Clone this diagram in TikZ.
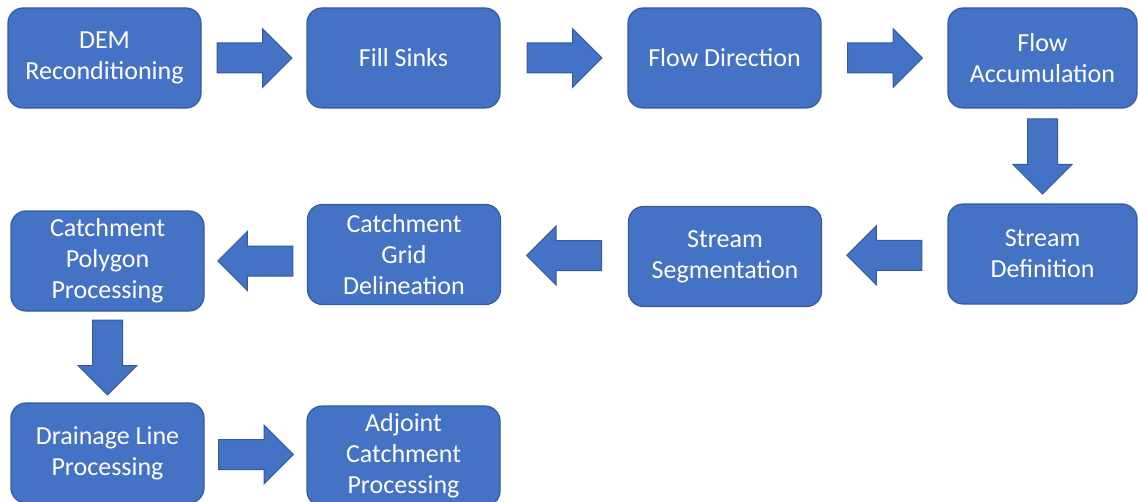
\documentclass[tikz,border=0pt]{standalone}
\usepackage{fontspec}
\setmainfont{Carlito}
\usetikzlibrary{shapes.arrows,calc}

\begin{document}
\begin{tikzpicture}[
  x=0.5pt, y=-0.5pt,
  font=\fontsize{13}{15.5}\selectfont,
  box/.style={draw=boxline, fill=boxblue, text=white, rounded corners=7.5pt, minimum width=96.5pt, minimum height=50pt, align=center, line width=0.6pt, inner sep=2pt},
  narrowbox/.style={box, minimum width=94.5pt},
  blockarrow/.style={single arrow, draw=boxline, fill=boxblue, line width=0.5pt, minimum height=37.5pt, inner sep=7.25pt, single arrow head extend=7.25pt, anchor=tail},
  rightarrow/.style={blockarrow, xshift=-18.75pt},
  leftarrow/.style={blockarrow, shape border rotate=180, xshift=18.75pt},
  downarrow/.style={blockarrow, shape border rotate=270, yshift=18.75pt}
]

\definecolor{boxblue}{RGB}{68,114,196}
\definecolor{boxline}{RGB}{52,90,160}

\useasboundingbox (0,0) rectangle (1138,502);

% first row, left to right
\node[box] (dem) at (104.5,58) {DEM\\Reconditioning};
\node[box] (sinks) at (403.5,58) {Fill Sinks};
\node[box] (fdir) at (724.5,58) {Flow Direction};
\node[narrowbox] (facc) at (1042.5,58) {Flow\\Accumulation};

% second row, right to left
\node[narrowbox] (sdef) at (1042.5,254) {Stream\\Definition};
\node[box] (sseg) at (725,256.5) {Stream\\Segmentation};
\node[box] (cgrid) at (404,254.5) {Catchment\\Grid\\Delineation};
\node[box] (cpoly) at (107.5,261) {Catchment\\Polygon\\Processing};

% third row
\node[box] (drain) at (107.5,453) {Drainage Line\\Processing};
\node[box] (adjoint) at (403.5,456) {Adjoint\\Catchment\\Processing};

% block arrows, centred in the gaps between the steps
\node[rightarrow] (a1) at ($(dem.east)!0.5!(sinks.west)$) {};
\node[rightarrow] (a2) at ($(sinks.east)!0.5!(fdir.west)$) {};
\node[rightarrow] (a3) at ($(fdir.east)!0.5!(facc.west)$) {};
\node[downarrow] (a4) at ($(facc.south)!0.5!(sdef.north)$) {};
\node[leftarrow] (a5) at ($(sseg.east)!0.5!(sdef.west)$) {};
\node[leftarrow] (a6) at ($(cgrid.east)!0.5!(sseg.west)$) {};
\node[leftarrow] (a7) at ($(cpoly.east)!0.5!(cgrid.west |- cpoly.east)$) {};
\node[downarrow] (a8) at ($(cpoly.south)!0.5!(drain.north)$) {};
\node[rightarrow] (a9) at ($(drain.east)!0.5!(adjoint.west)$) {};

\end{tikzpicture}
\end{document}
